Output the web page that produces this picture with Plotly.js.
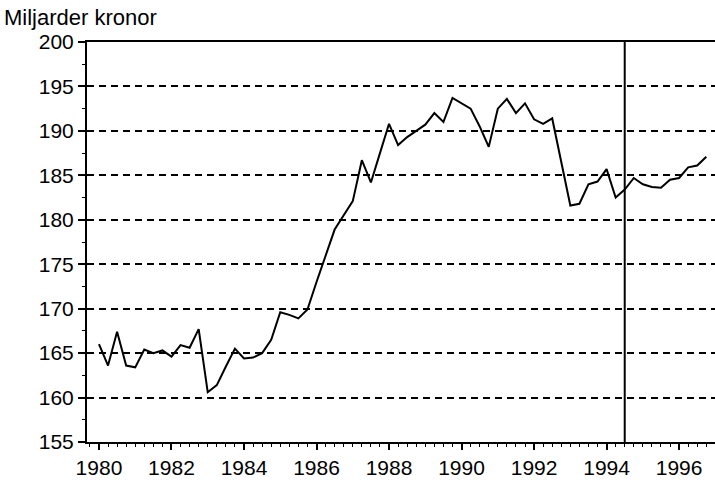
<!DOCTYPE html>
<html>
<head>
<meta charset="utf-8">
<script src="https://cdn.plot.ly/plotly-3.0.1.min.js"></script>
<style>html,body{margin:0;padding:0;background:#fff}#chart{width:715px;height:482px}</style>
</head>
<body>
<div id="chart"></div>
<script>
// Quarterly values, 1980 Q1 .. 1996 Q4 (billion SEK)
const startYear = 1980;
const values = [
  166.0, 163.6, 167.4, 163.6,
  163.4, 165.4, 165.0, 165.3,
  164.6, 165.9, 165.6, 167.7,
  160.6, 161.4, 163.5, 165.5,
  164.4, 164.5, 165.0, 166.5,
  169.6, 169.3, 168.9, 169.9,
  173.0, 176.0, 178.9, 180.5,
  182.1, 186.7, 184.2, 187.5,
  190.8, 188.4, 189.3, 190.0,
  190.7, 192.0, 191.0, 193.7,
  193.1, 192.5, 190.5, 188.2,
  192.5, 193.6, 192.0, 193.1,
  191.3, 190.8, 191.4, 186.5,
  181.6, 181.8, 184.0, 184.3,
  185.7, 182.5, 183.4, 184.7,
  184.0, 183.7, 183.6, 184.5,
  184.7, 185.9, 186.1, 187.1
];
const quarters = values.map((v, i) => startYear + i / 4);
const markerYear = 1994.5;
const yTicks = [155, 160, 165, 170, 175, 180, 185, 190, 195, 200];
const xTicks = [1980, 1982, 1984, 1986, 1988, 1990, 1992, 1994, 1996];
const yTitle = 'Miljarder kronor';

const trace = {
  x: quarters, y: values, type: 'scatter', mode: 'lines',
  line: {color: '#000', width: 2}, hoverinfo: 'skip'
};

const font = {family: 'Liberation Sans, Arial, sans-serif', size: 21, color: '#000'};

const layout = {
  width: 715, height: 482,
  margin: {l: 87, r: 0, t: 42, b: 40},
  paper_bgcolor: '#fff', plot_bgcolor: '#fff',
  showlegend: false,
  font: font,
  title: {text: yTitle, x: 4/715, xanchor: 'left', y: 1 - 17/482, yanchor: 'middle',
          font: {family: font.family, size: 22, color: '#000'}},
  xaxis: {
    range: [1979.67, 1996.99],
    tickmode: 'array', tickvals: xTicks, ticktext: xTicks.map(String),
    ticks: 'outside', ticklen: 6, tickwidth: 2, tickcolor: '#000',
    minor: {dtick: 0.25, tick0: 1980, ticks: 'outside', ticklen: 3, tickwidth: 1, tickcolor: '#000', showgrid: false},
    showline: true, linecolor: '#000', linewidth: 2, mirror: true,
    showgrid: false, zeroline: false,
    tickfont: font
  },
  yaxis: {
    range: [155, 200],
    tickmode: 'array', tickvals: yTicks, ticktext: yTicks.map(String),
    ticks: 'outside', ticklen: 7, tickwidth: 2, tickcolor: '#000',
    minor: {dtick: 2.5, tick0: 155, ticks: 'outside', ticklen: 3, tickwidth: 1, tickcolor: '#000', showgrid: false},
    showline: true, linecolor: '#000', linewidth: 2,
    showgrid: true, gridcolor: '#000', gridwidth: 2, griddash: '7px,5px',
    zeroline: false,
    tickfont: font
  },
  shapes: [{
    type: 'line', xref: 'x', yref: 'paper', x0: markerYear, x1: markerYear, y0: 0, y1: 1,
    line: {color: '#000', width: 2}
  }]
};

Plotly.newPlot('chart', [trace], layout, {displayModeBar: false, staticPlot: true});
</script>
</body>
</html>
